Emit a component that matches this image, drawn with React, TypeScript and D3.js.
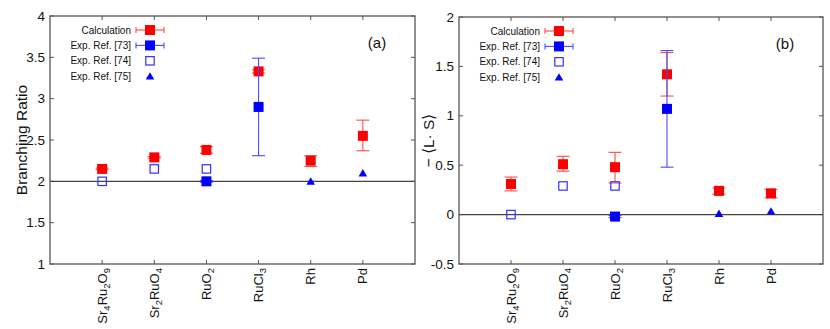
import React, { useEffect, useRef } from "react";
import * as d3 from "d3";

// categories, "_" marks a one-digit subscript
const categories = ["Sr_4Ru_2O_9", "Sr_2RuO_4", "RuO_2", "RuCl_3", "Rh", "Pd"];
const legendLabels = ["Calculation", "Exp. Ref. [73]", "Exp. Ref. [74]", "Exp. Ref. [75]"];

// (a) branching ratio
const ratioTicks = [1, 1.5, 2, 2.5, 3, 3.5, 4];
const ratioCalc = [2.15, 2.29, 2.38, 3.33, 2.25, 2.55];
const ratioCalcLow = [2.14, 2.28, 2.34, 3.31, 2.18, 2.37];
const ratioCalcHigh = [2.16, 2.3, 2.42, 3.35, 2.31, 2.74];
const ratioRef73 = [null, null, 2.0, 2.9, null, null];
const ratioRef73Low = [null, null, 1.99, 2.31, null, null];
const ratioRef73High = [null, null, 2.01, 3.49, null, null];
const ratioRef74 = [2.0, 2.15, 2.15, null, null, null];
const ratioRef75 = [null, null, null, null, 2.0, 2.1];

// (b) -<L.S>
const lsTicks = [-0.5, 0, 0.5, 1, 1.5, 2];
const lsCalc = [0.31, 0.51, 0.48, 1.42, 0.24, 0.215];
const lsCalcLow = [0.24, 0.44, 0.32, 1.2, 0.205, 0.17];
const lsCalcHigh = [0.38, 0.59, 0.63, 1.64, 0.27, 0.255];
const lsRef73 = [null, null, -0.02, 1.07, null, null];
const lsRef73Low = [null, null, -0.03, 0.48, null, null];
const lsRef73High = [null, null, -0.01, 1.66, null, null];
const lsRef74 = [0.0, 0.29, 0.29, null, null, null];
const lsRef75 = [null, null, null, null, 0.01, 0.035];

const FONT = "'Liberation Sans', Arial, sans-serif";
const RED = "#ff0000";
const BLUE = "#0000ff";
const RED_BAR = "#ff4a4a";
const BLUE_BAR = "#4a4aff";
const FRAME = "#555";

type Panel = {
  left: number;
  top: number;
  right: number;
  bottom: number;
  domain: [number, number];
  ticks: number[];
  refValue: number;
  tag: string;
  yLabel: string;
  yLabelX: number;
  calc: number[];
  calcLow: number[];
  calcHigh: number[];
  ref73: (number | null)[];
  ref73Low: (number | null)[];
  ref73High: (number | null)[];
  ref74: (number | null)[];
  ref75: (number | null)[];
};

const panels: Panel[] = [
  {
    left: 50, top: 16, right: 415, bottom: 264,
    domain: [1, 4], ticks: ratioTicks, refValue: 2, tag: "(a)",
    yLabel: "Branching Ratio", yLabelX: 27,
    calc: ratioCalc, calcLow: ratioCalcLow, calcHigh: ratioCalcHigh,
    ref73: ratioRef73, ref73Low: ratioRef73Low, ref73High: ratioRef73High,
    ref74: ratioRef74, ref75: ratioRef75,
  },
  {
    left: 459, top: 17, right: 823, bottom: 264,
    domain: [-0.5, 2], ticks: lsTicks, refValue: 0, tag: "(b)",
    yLabel: "\u2212 \u27E8L\u00B7 S\u27E9", yLabelX: 434,
    calc: lsCalc, calcLow: lsCalcLow, calcHigh: lsCalcHigh,
    ref73: lsRef73, ref73Low: lsRef73Low, ref73High: lsRef73High,
    ref74: lsRef74, ref75: lsRef75,
  },
];

const triangle = (g: any, cx: number, cy: number) =>
  g.append("path")
    .attr("d", `M${cx - 4.3},${cy + 3.4}L${cx + 4.3},${cy + 3.4}L${cx},${cy - 4}Z`)
    .attr("fill", BLUE);

const filledSquare = (g: any, cx: number, cy: number, color: string) =>
  g.append("rect")
    .attr("x", cx - 5).attr("y", cy - 5)
    .attr("width", 10).attr("height", 10)
    .attr("fill", color);

const openSquare = (g: any, cx: number, cy: number) =>
  g.append("rect")
    .attr("x", cx - 4.2).attr("y", cy - 4.2)
    .attr("width", 8.4).attr("height", 8.4)
    .attr("fill", "none")
    .attr("stroke", "#3030ff")
    .attr("stroke-width", 1.2);

const drawPanel = (svg: any, p: Panel) => {
  const x = d3.scaleLinear().domain([0, 7]).range([p.left, p.right]);
  const y = d3.scaleLinear().domain(p.domain).range([p.bottom, p.top]);
  const g = svg.append("g");
  const idx = categories.map((_, i) => i + 1);

  // frame
  g.append("rect")
    .attr("x", p.left).attr("y", p.top)
    .attr("width", p.right - p.left).attr("height", p.bottom - p.top)
    .attr("fill", "none").attr("stroke", FRAME).attr("stroke-width", 1.3);

  // inward ticks
  p.ticks.forEach((t) => {
    g.append("line").attr("x1", p.left).attr("x2", p.left + 4)
      .attr("y1", y(t)).attr("y2", y(t)).attr("stroke", FRAME);
    g.append("line").attr("x1", p.right - 4).attr("x2", p.right)
      .attr("y1", y(t)).attr("y2", y(t)).attr("stroke", FRAME);
    g.append("text")
      .attr("x", p.left - 5).attr("y", y(t))
      .attr("text-anchor", "end").attr("dominant-baseline", "central")
      .attr("font-family", FONT).attr("font-size", 13.5).attr("fill", "#111")
      .text(String(t).replace("-", "-"));
  });
  idx.forEach((i) => {
    g.append("line").attr("x1", x(i)).attr("x2", x(i))
      .attr("y1", p.bottom).attr("y2", p.bottom - 4).attr("stroke", FRAME);
    g.append("line").attr("x1", x(i)).attr("x2", x(i))
      .attr("y1", p.top).attr("y2", p.top + 4).attr("stroke", FRAME);
  });

  // category labels, rotated with subscripts
  categories.forEach((c, i) => {
    const t = g.append("text")
      .attr("transform", `translate(${x(i + 1) + 4.5},${p.bottom + 4}) rotate(-90)`)
      .attr("text-anchor", "end")
      .attr("font-family", FONT).attr("font-size", 13).attr("fill", "#111");
    const parts = c.split(/(_\d)/).filter((s) => s.length);
    let shifted = false;
    parts.forEach((s) => {
      if (s.startsWith("_")) {
        t.append("tspan").attr("font-size", 9.5).attr("dy", 3).text(s.slice(1));
        shifted = true;
      } else {
        t.append("tspan").attr("dy", shifted ? -3 : 0).text(s);
        shifted = false;
      }
    });
  });

  // reference line
  g.append("line")
    .attr("x1", p.left).attr("x2", p.right)
    .attr("y1", y(p.refValue)).attr("y2", y(p.refValue))
    .attr("stroke", "#444").attr("stroke-width", 1.2);

  // error bars
  const errorBar = (v: number, lo: number, hi: number, i: number, color: string) => {
    const cx = x(i + 1);
    g.append("line").attr("x1", cx).attr("x2", cx)
      .attr("y1", y(lo)).attr("y2", y(hi)).attr("stroke", color).attr("stroke-width", 1.1);
    [lo, hi].forEach((e) =>
      g.append("line").attr("x1", cx - 6.5).attr("x2", cx + 6.5)
        .attr("y1", y(e)).attr("y2", y(e)).attr("stroke", color).attr("stroke-width", 1.1));
  };
  p.calc.forEach((v, i) => errorBar(v, p.calcLow[i], p.calcHigh[i], i, RED_BAR));
  p.calc.forEach((v, i) => filledSquare(g, x(i + 1), y(v), RED));
  p.ref73.forEach((v, i) => {
    if (v == null) return;
    errorBar(v, p.ref73Low[i] as number, p.ref73High[i] as number, i, BLUE_BAR);
    filledSquare(g, x(i + 1), y(v), BLUE);
  });
  p.ref74.forEach((v, i) => {
    if (v != null) openSquare(g, x(i + 1), y(v));
  });
  p.ref75.forEach((v, i) => {
    if (v != null) triangle(g, x(i + 1), y(v));
  });

  // legend
  const textX = p.left + 81;
  const symX = p.left + 100;
  legendLabels.forEach((lab, k) => {
    const ly = p.top + 14 + k * 15.4;
    g.append("text")
      .attr("x", textX).attr("y", ly)
      .attr("text-anchor", "end").attr("dominant-baseline", "central")
      .attr("font-family", FONT).attr("font-size", 10).attr("fill", "#111")
      .text(lab);
    if (k < 2) {
      const col = k === 0 ? RED_BAR : BLUE_BAR;
      g.append("line").attr("x1", symX - 14).attr("x2", symX + 14)
        .attr("y1", ly).attr("y2", ly).attr("stroke", col).attr("stroke-width", 1.1);
      [-14, 14].forEach((d) =>
        g.append("line").attr("x1", symX + d).attr("x2", symX + d)
          .attr("y1", ly - 3).attr("y2", ly + 3).attr("stroke", col).attr("stroke-width", 1.1));
      filledSquare(g, symX, ly, k === 0 ? RED : BLUE);
    } else if (k === 2) {
      openSquare(g, symX, ly);
    } else {
      triangle(g, symX, ly);
    }
  });

  // panel tag
  g.append("text")
    .attr("x", p.right - 38).attr("y", p.top + 32)
    .attr("text-anchor", "middle")
    .attr("font-family", FONT).attr("font-size", 15).attr("fill", "#111")
    .text(p.tag);

  // y label
  const cy = (p.top + p.bottom) / 2;
  g.append("text")
    .attr("transform", `translate(${p.yLabelX},${cy}) rotate(-90)`)
    .attr("text-anchor", "middle")
    .attr("font-family", FONT).attr("font-size", 15.5).attr("fill", "#111")
    .text(p.yLabel);
};

export default function App() {
  const svgRef = useRef<SVGSVGElement>(null);

  useEffect(() => {
    document.body.style.margin = "0";
    const svg = d3.select(svgRef.current);
    svg.selectAll("*").remove();
    panels.forEach((p) => drawPanel(svg, p));
  }, []);

  return (
    <div>
      <svg ref={svgRef} width={830} height={329} style={{ display: "block", background: "#fff" }}></svg>
    </div>
  );
}
